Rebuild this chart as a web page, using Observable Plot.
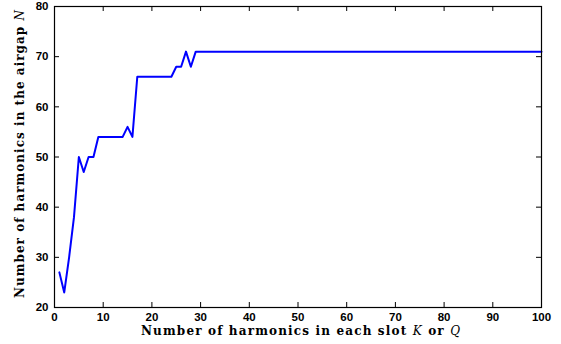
<!DOCTYPE html>
<html>
<head>
<meta charset="utf-8">
<script src="https://cdn.jsdelivr.net/npm/d3@7"></script>
<script src="https://cdn.jsdelivr.net/npm/@observablehq/plot@0.6"></script>
<style>
  html, body { margin: 0; padding: 0; background: #fff; }
  #chart svg { display: block; }
</style>
</head>
<body>
<div id="chart"></div>
<script>
// Number of harmonics in each slot (K or Q)
const K = [1, 2, 3, 4, 5, 6, 7, 8, 9, 10, 11, 12, 13, 14, 15, 16, 17, 18, 19, 20,
           21, 22, 23, 24, 25, 26, 27, 28, 29, 100];
// Number of harmonics in the airgap (N)
const N = [27, 23, 30, 38, 50, 47, 50, 50, 54, 54, 54, 54, 54, 54, 56, 54, 66, 66, 66, 66,
           66, 66, 66, 66, 68, 68, 71, 68, 71, 71];
const xTicks = [0, 10, 20, 30, 40, 50, 60, 70, 80, 90, 100];
const yTicks = [20, 30, 40, 50, 60, 70, 80];

const data = K.map((k, i) => ({k, n: N[i]}));

const W = 561, H = 344;
const mL = 54, mR = 20, mT = 6, mB = 37;
const fw = W - mL - mR, fh = H - mT - mB;
const tl = 5;

const svg = Plot.plot({
  width: W, height: H,
  marginLeft: mL, marginRight: mR, marginTop: mT, marginBottom: mB,
  style: {fontFamily: "'Liberation Sans', Arial, sans-serif", fontSize: "11.5px", fontWeight: "bold", color: "#000", background: "#fff"},
  x: {domain: [0, 100], ticks: xTicks},
  y: {domain: [20, 80], ticks: yTicks},
  marks: [
    Plot.axisX(xTicks, {tickSize: 0, tickPadding: 5, label: null, fill: "#000"}),
    Plot.axisY(yTicks, {tickSize: 0, tickPadding: 6, label: null, fill: "#000"}),
    Plot.tickX(xTicks, {x: d => d, insetTop: fh - tl, stroke: "#000", strokeWidth: 1}),
    Plot.tickX(xTicks, {x: d => d, insetBottom: fh - tl, stroke: "#000", strokeWidth: 1}),
    Plot.tickY(yTicks, {y: d => d, insetLeft: fw - tl, stroke: "#000", strokeWidth: 1}),
    Plot.tickY(yTicks, {y: d => d, insetRight: fw - tl, stroke: "#000", strokeWidth: 1}),
    Plot.line(data, {x: "k", y: "n", stroke: "#0000ff", strokeWidth: 2}),
    Plot.frame({stroke: "#000", strokeWidth: 1.2})
  ]
});

const s = d3.select(svg);
const titleFont = "'DejaVu Serif', 'Liberation Serif', serif";
const xt = s.append("text")
  .attr("x", 141)
  .attr("y", 335)
  .attr("text-anchor", "start")
  .attr("textLength", 319)
  .attr("lengthAdjust", "spacing")
  .style("font-family", titleFont)
  .style("font-size", "12px")
  .style("font-weight", "bold")
  .attr("fill", "#000");
xt.append("tspan").text("Number of harmonics in each slot ");
xt.append("tspan").style("font-style", "italic").style("font-weight", "normal").text("K");
xt.append("tspan").text(" or ");
xt.append("tspan").style("font-style", "italic").style("font-weight", "normal").text("Q");

const yt = s.append("text")
  .attr("transform", `translate(24, 298) rotate(-90)`)
  .attr("text-anchor", "start")
  .attr("textLength", 288)
  .attr("lengthAdjust", "spacing")
  .style("font-family", titleFont)
  .style("font-size", "12px")
  .style("font-weight", "bold")
  .attr("fill", "#000");
yt.append("tspan").text("Number of harmonics in the airgap ");
yt.append("tspan").style("font-style", "italic").style("font-weight", "normal").text("N");

document.getElementById("chart").appendChild(svg);
</script>
</body>
</html>
